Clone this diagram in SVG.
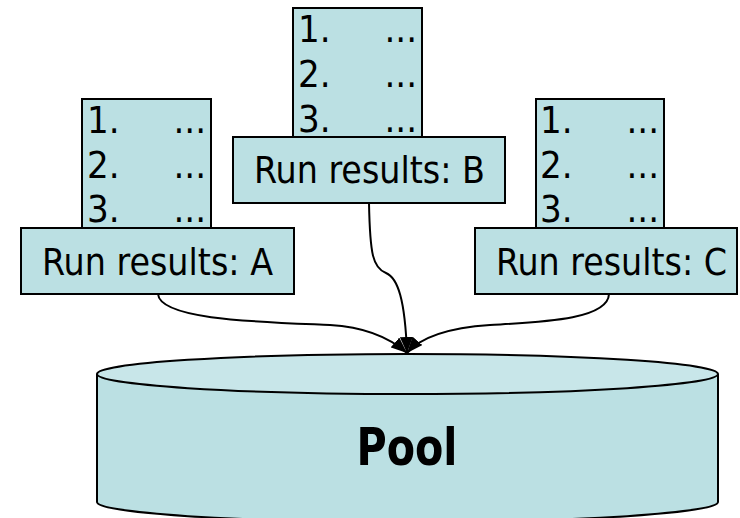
<svg xmlns="http://www.w3.org/2000/svg" width="740" height="518" viewBox="0 0 740 518">
  <defs>
    <marker id="arrow" markerUnits="userSpaceOnUse" markerWidth="17" markerHeight="13" refX="16" refY="6.5" orient="auto">
      <path d="M0,0 L16,6.5 L0,13 z" fill="#000"/>
    </marker>
    <style>
      .box { fill: #BBE0E3; stroke: #000; stroke-width: 2; }
      .txt { font-family: "DejaVu Sans", Verdana, sans-serif; font-stretch: condensed; font-size: 38px; fill: #000; }
      .link { fill: none; stroke: #000; stroke-width: 2; marker-end: url(#arrow); }
      .pool { font-family: "DejaVu Sans", Verdana, sans-serif; font-stretch: condensed; font-size: 51px; font-weight: bold; fill: #000; }
    </style>
  </defs>
  <rect width="740" height="518" fill="#fff"/>

  <!-- connectors into the pool -->
  <g id="connectors">
    <path class="link" d="M158,294 C160,320 260,322 330,325 C365,327 390,338 407,353"/>
    <path class="link" d="M369,203 C370,255 373,268 386,273 C398,278 405,300 407,353"/>
    <path class="link" d="M609,294 C608,320 540,322 490,325 C445,328 420,338 407,353"/>
  </g>

  <!-- pool cylinder -->
  <g id="pool">
    <path d="M97,374 L97,502 A310.5,20 0 0 0 718,502 L718,374 Z" fill="#BBE0E3"/>
    <path d="M97,374 L97,502 A310.5,20 0 0 0 718,502 L718,374" fill="none" stroke="#000" stroke-width="2"/>
    <ellipse cx="407.5" cy="374" rx="310.5" ry="20" fill="#C8E6E9" stroke="#000" stroke-width="2"/>
    <text class="pool" x="407" y="465" text-anchor="middle" textLength="101" lengthAdjust="spacingAndGlyphs">Pool</text>
  </g>

  <!-- run A -->
  <g id="run-a">
    <rect class="box" x="82" y="99" width="129" height="129"/>
    <text class="txt"><tspan x="87" y="133">1.</tspan><tspan x="206" y="133" text-anchor="end">...</tspan></text>
    <text class="txt"><tspan x="87" y="178">2.</tspan><tspan x="206" y="178" text-anchor="end">...</tspan></text>
    <text class="txt"><tspan x="87" y="222">3.</tspan><tspan x="206" y="222" text-anchor="end">...</tspan></text>
    <rect class="box" x="21" y="228" width="273" height="66"/>
    <text class="txt" x="42" y="275" textLength="231" lengthAdjust="spacingAndGlyphs">Run results: A</text>
  </g>

  <!-- run B -->
  <g id="run-b">
    <rect class="box" x="293" y="8" width="129" height="129"/>
    <text class="txt"><tspan x="298" y="42">1.</tspan><tspan x="417" y="42" text-anchor="end">...</tspan></text>
    <text class="txt"><tspan x="298" y="87">2.</tspan><tspan x="417" y="87" text-anchor="end">...</tspan></text>
    <text class="txt"><tspan x="298" y="132">3.</tspan><tspan x="417" y="132" text-anchor="end">...</tspan></text>
    <rect class="box" x="233" y="137" width="272" height="66"/>
    <text class="txt" x="254" y="183" textLength="231" lengthAdjust="spacingAndGlyphs">Run results: B</text>
  </g>

  <!-- run C -->
  <g id="run-c">
    <rect class="box" x="536" y="99" width="128" height="129"/>
    <text class="txt"><tspan x="540" y="133">1.</tspan><tspan x="659" y="133" text-anchor="end">...</tspan></text>
    <text class="txt"><tspan x="540" y="178">2.</tspan><tspan x="659" y="178" text-anchor="end">...</tspan></text>
    <text class="txt"><tspan x="540" y="222">3.</tspan><tspan x="659" y="222" text-anchor="end">...</tspan></text>
    <rect class="box" x="475" y="228" width="262" height="66"/>
    <text class="txt" x="496" y="275" textLength="231" lengthAdjust="spacingAndGlyphs">Run results: C</text>
  </g>
</svg>
